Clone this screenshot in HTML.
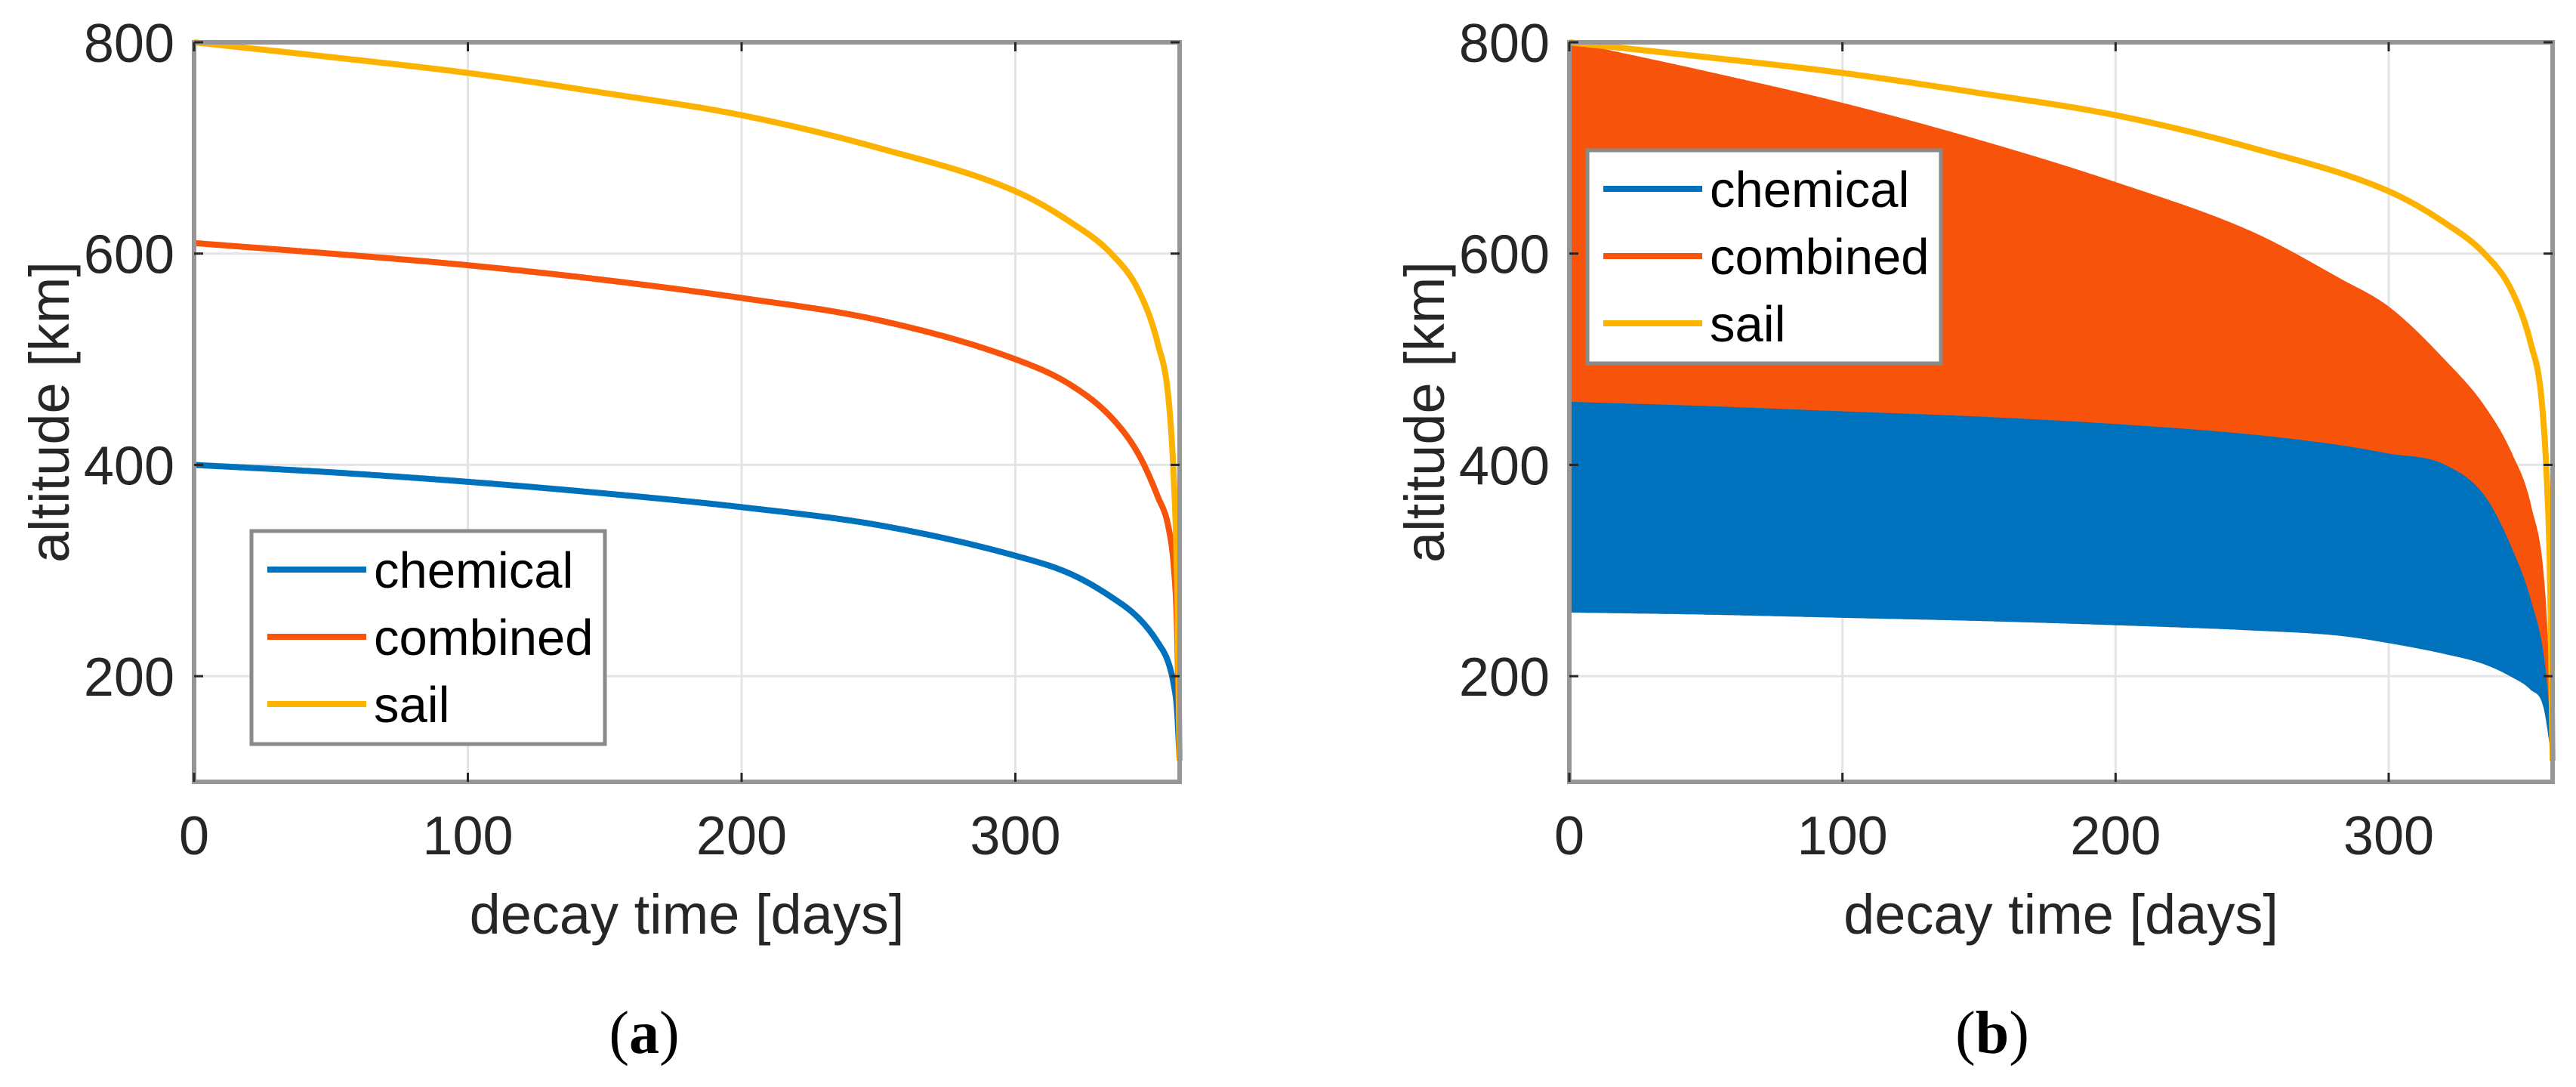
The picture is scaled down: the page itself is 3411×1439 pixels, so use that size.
<!DOCTYPE html>
<html><head><meta charset="utf-8">
<style>
html,body{margin:0;padding:0;background:#fff;}
svg{display:block;}
text{font-family:"Liberation Sans",sans-serif;fill:#262626;}
</style></head>
<body>
<svg id="fig" width="3411" height="1439" viewBox="0 0 3411 1439" xmlns="http://www.w3.org/2000/svg"></svg>
<script>
// ---- data ----
const xTicks = [0, 100, 200, 300];
const yTicks = [200, 400, 600, 800];
const xDomain = [0, 360];
const yDomain = [100, 800];
const seriesNames = ["chemical", "combined", "sail"];

// panel (a)
const daysA = [0, 50, 100, 150, 200, 250, 300, 320, 335, 345, 352, 356, 358, 359, 360];
const sailA = [800, 786, 771, 752, 731, 700, 659, 630, 600, 565, 515, 461, 380, 300, 120];
const combinedA = [610, 600, 589, 575, 558, 537, 500, 476, 445, 410, 370, 340, 300, 250, 120];
const chemicalA = [400, 393, 384, 373, 360, 343, 314, 297, 275, 255, 232, 212, 190, 170, 120];

// panel (b)
const daysB = [0, 50, 100, 150, 200, 250, 282, 300, 320, 335, 345, 352, 357, 360];
const combinedUpperB = [800, 772, 742, 707, 667, 620, 576, 549, 500, 455, 410, 360, 280, 120];
const chemicalUpperB = [459, 455, 450, 445, 438, 428, 418, 410, 400, 370, 320, 270, 210, 120];
const chemicalLowerB = [261, 259, 256, 253, 249, 244, 239, 232, 222, 212, 200, 188, 170, 120];
const sailB = [800, 786, 771, 752, 731, 700, 659, 630, 600, 565, 515, 461, 380, 300, 120];
const sailDaysB = daysA;

const colors = {chemical:"#0072bd", combined:"#f7530b", sail:"#fdb200"};
const NS = "http://www.w3.org/2000/svg";
const svg = document.getElementById("fig");

function el(tag, attrs, parent){
  const e = document.createElementNS(NS, tag);
  for (const k in attrs) e.setAttribute(k, attrs[k]);
  (parent || svg).appendChild(e);
  return e;
}

// monotone cubic interpolation (Fritsch-Carlson)
function monotone(xs, ys){
  const n = xs.length, d = [], m = new Array(n);
  for (let i=0;i<n-1;i++) d.push((ys[i+1]-ys[i])/(xs[i+1]-xs[i]));
  m[0]=d[0]; m[n-1]=d[n-2];
  for (let i=1;i<n-1;i++) m[i] = (d[i-1]*d[i] <= 0) ? 0 : (d[i-1]+d[i])/2;
  for (let i=0;i<n-1;i++){
    if (d[i]===0){ m[i]=0; m[i+1]=0; continue; }
    const a=m[i]/d[i], b=m[i+1]/d[i], s=a*a+b*b;
    if (s>9){ const t=3/Math.sqrt(s); m[i]=t*a*d[i]; m[i+1]=t*b*d[i]; }
  }
  return x => {
    let i = 0;
    while (i < n-2 && x > xs[i+1]) i++;
    const h = xs[i+1]-xs[i], t = (x-xs[i])/h;
    const h00=2*t*t*t-3*t*t+1, h10=t*t*t-2*t*t+t, h01=-2*t*t*t+3*t*t, h11=t*t*t-t*t;
    return h00*ys[i]+h10*h*m[i]+h01*ys[i+1]+h11*h*m[i+1];
  };
}
function samplePts(xs, ys, sx, sy){
  const f = monotone(xs, ys), pts = [];
  const x0 = xs[0], x1 = xs[xs.length-1];
  for (let k=0;k<=600;k++){
    const u = k/600;
    const x = x0 + (x1-x0)*(1-Math.pow(1-u,1.6));
    pts.push([sx(x), sy(f(x))]);
  }
  return pts;
}
function pathFrom(xs, ys, sx, sy){
  return samplePts(xs, ys, sx, sy).map((p,i)=>(i?"L":"M")+p[0].toFixed(1)+","+p[1].toFixed(1)).join(" ");
}

function makePanel(px0, px1, label, labelX, tag){
  const py0 = 56, py1 = 1035;
  const sx = v => px0 + (v - xDomain[0]) / (xDomain[1] - xDomain[0]) * (px1 - px0);
  const sy = v => py1 - (v - yDomain[0]) / (yDomain[1] - yDomain[0]) * (py1 - py0);
  const g = el("g", {});
  
  
  xTicks.forEach(t => {
    const l = el("line", {x1:sx(t), x2:sx(t), y1:py0, y2:py1, stroke:"#e4e4e4", "stroke-width":3}, g);
    
    
  });
  yTicks.forEach(t => {
    const l = el("line", {x1:px0, x2:px1, y1:sy(t), y2:sy(t), stroke:"#e4e4e4", "stroke-width":3}, g);
    
    
  });
  return {g, sx, sy, px0, px1, py0, py1, label, labelX, tag};
}

function finishPanel(P, legendX, legendY){
  const {g, sx, sy, px0, px1, py0, py1} = P;
  const box = el("rect", {x:px0, y:py0, width:px1-px0, height:py1-py0, fill:"none", stroke:"#969696", "stroke-width":6}, g);
  
  
  xTicks.forEach(t => {
    const a = el("line", {x1:sx(t), x2:sx(t), y1:py1, y2:py1-12, stroke:"#262626", "stroke-width":3}, g);
    
    
    const b = el("line", {x1:sx(t), x2:sx(t), y1:py0, y2:py0+12, stroke:"#262626", "stroke-width":3}, g);
    
    
    const tx = el("text", {x:sx(t), y:1131, "font-size":72, "text-anchor":"middle"}, g);
    tx.textContent = t;
    
    
  });
  yTicks.forEach(t => {
    const a = el("line", {x1:px0, x2:px0+12, y1:sy(t), y2:sy(t), stroke:"#262626", "stroke-width":3}, g);
    
    
    const b = el("line", {x1:px1, x2:px1-12, y1:sy(t), y2:sy(t), stroke:"#262626", "stroke-width":3}, g);
    
    
    const ty = el("text", {x:px0-26, y:sy(t)+26, "font-size":72, "text-anchor":"end"}, g);
    ty.textContent = t;
    
    
  });
  const xl = el("text", {x:(px0+px1)/2, y:1236, "font-size":74, "text-anchor":"middle"}, g);
  xl.textContent = "decay time [days]";
  
  
  const ycx = px0 - 192, ycy = (py0+py1)/2;
  const yl = el("text", {x:ycx, y:ycy, "font-size":74, "text-anchor":"middle", transform:`rotate(-90 ${ycx} ${ycy}) translate(0 26)`}, g);
  yl.textContent = "altitude [km]";
  
  
  const lg = el("g", {}, g);
  
  
  const lb = el("rect", {x:legendX, y:legendY, width:468, height:282, fill:"#fff", stroke:"#8a8a8a", "stroke-width":5}, lg);
  
  
  seriesNames.forEach((n,i) => {
    const yy = legendY + 51 + i*89;
    const ln = el("line", {x1:legendX+21, x2:legendX+152, y1:yy, y2:yy, stroke:colors[n], "stroke-width":8}, lg);
    
    
    const t = el("text", {x:legendX+162, y:yy+24, "font-size":67}, lg);
    t.setAttribute("style","fill:#000");
    t.textContent = n;
    
    
  });
  const pl = el("text", {x:P.labelX, y:1394, "font-size":80, "text-anchor":"middle"}, g);
  pl.setAttribute("style","font-family:'Liberation Serif',serif;fill:#000");
  pl.innerHTML = '(<tspan font-weight="bold">' + P.label + '</tspan>)';
  
  
}

// ---- panel a ----
const A = makePanel(257, 1562, "a", 853, "a");
[["chemical", chemicalA], ["combined", combinedA], ["sail", sailA]].forEach(([n, ys]) => {
  const p = el("path", {d:pathFrom(daysA, ys, A.sx, A.sy), fill:"none", stroke:colors[n], "stroke-width":8, "stroke-linejoin":"round"}, A.g);
  
  
});
finishPanel(A, 333, 703);

// ---- panel b ----
const B = makePanel(2078, 3380, "b", 2638, "b");
{
  const lowPts = samplePts(daysB, chemicalLowerB, B.sx, B.sy).reverse();
  const lowRev = lowPts.map(p=>"L"+p[0].toFixed(1)+","+p[1].toFixed(1)).join(" ");
  const up = pathFrom(daysB, combinedUpperB, B.sx, B.sy);
  const pc = el("path", {d:up+" "+lowRev+" Z", fill:colors.combined, stroke:colors.combined, "stroke-width":2}, B.g);
  
  
  const up2 = pathFrom(daysB, chemicalUpperB, B.sx, B.sy);
  const pb = el("path", {d:up2+" "+lowRev+" Z", fill:colors.chemical, stroke:colors.chemical, "stroke-width":2}, B.g);
  
  
  const ps = el("path", {d:pathFrom(sailDaysB, sailB, B.sx, B.sy), fill:"none", stroke:colors.sail, "stroke-width":8, "stroke-linejoin":"round"}, B.g);
  
  
}
finishPanel(B, 2102, 199);
</script>
</body></html>
